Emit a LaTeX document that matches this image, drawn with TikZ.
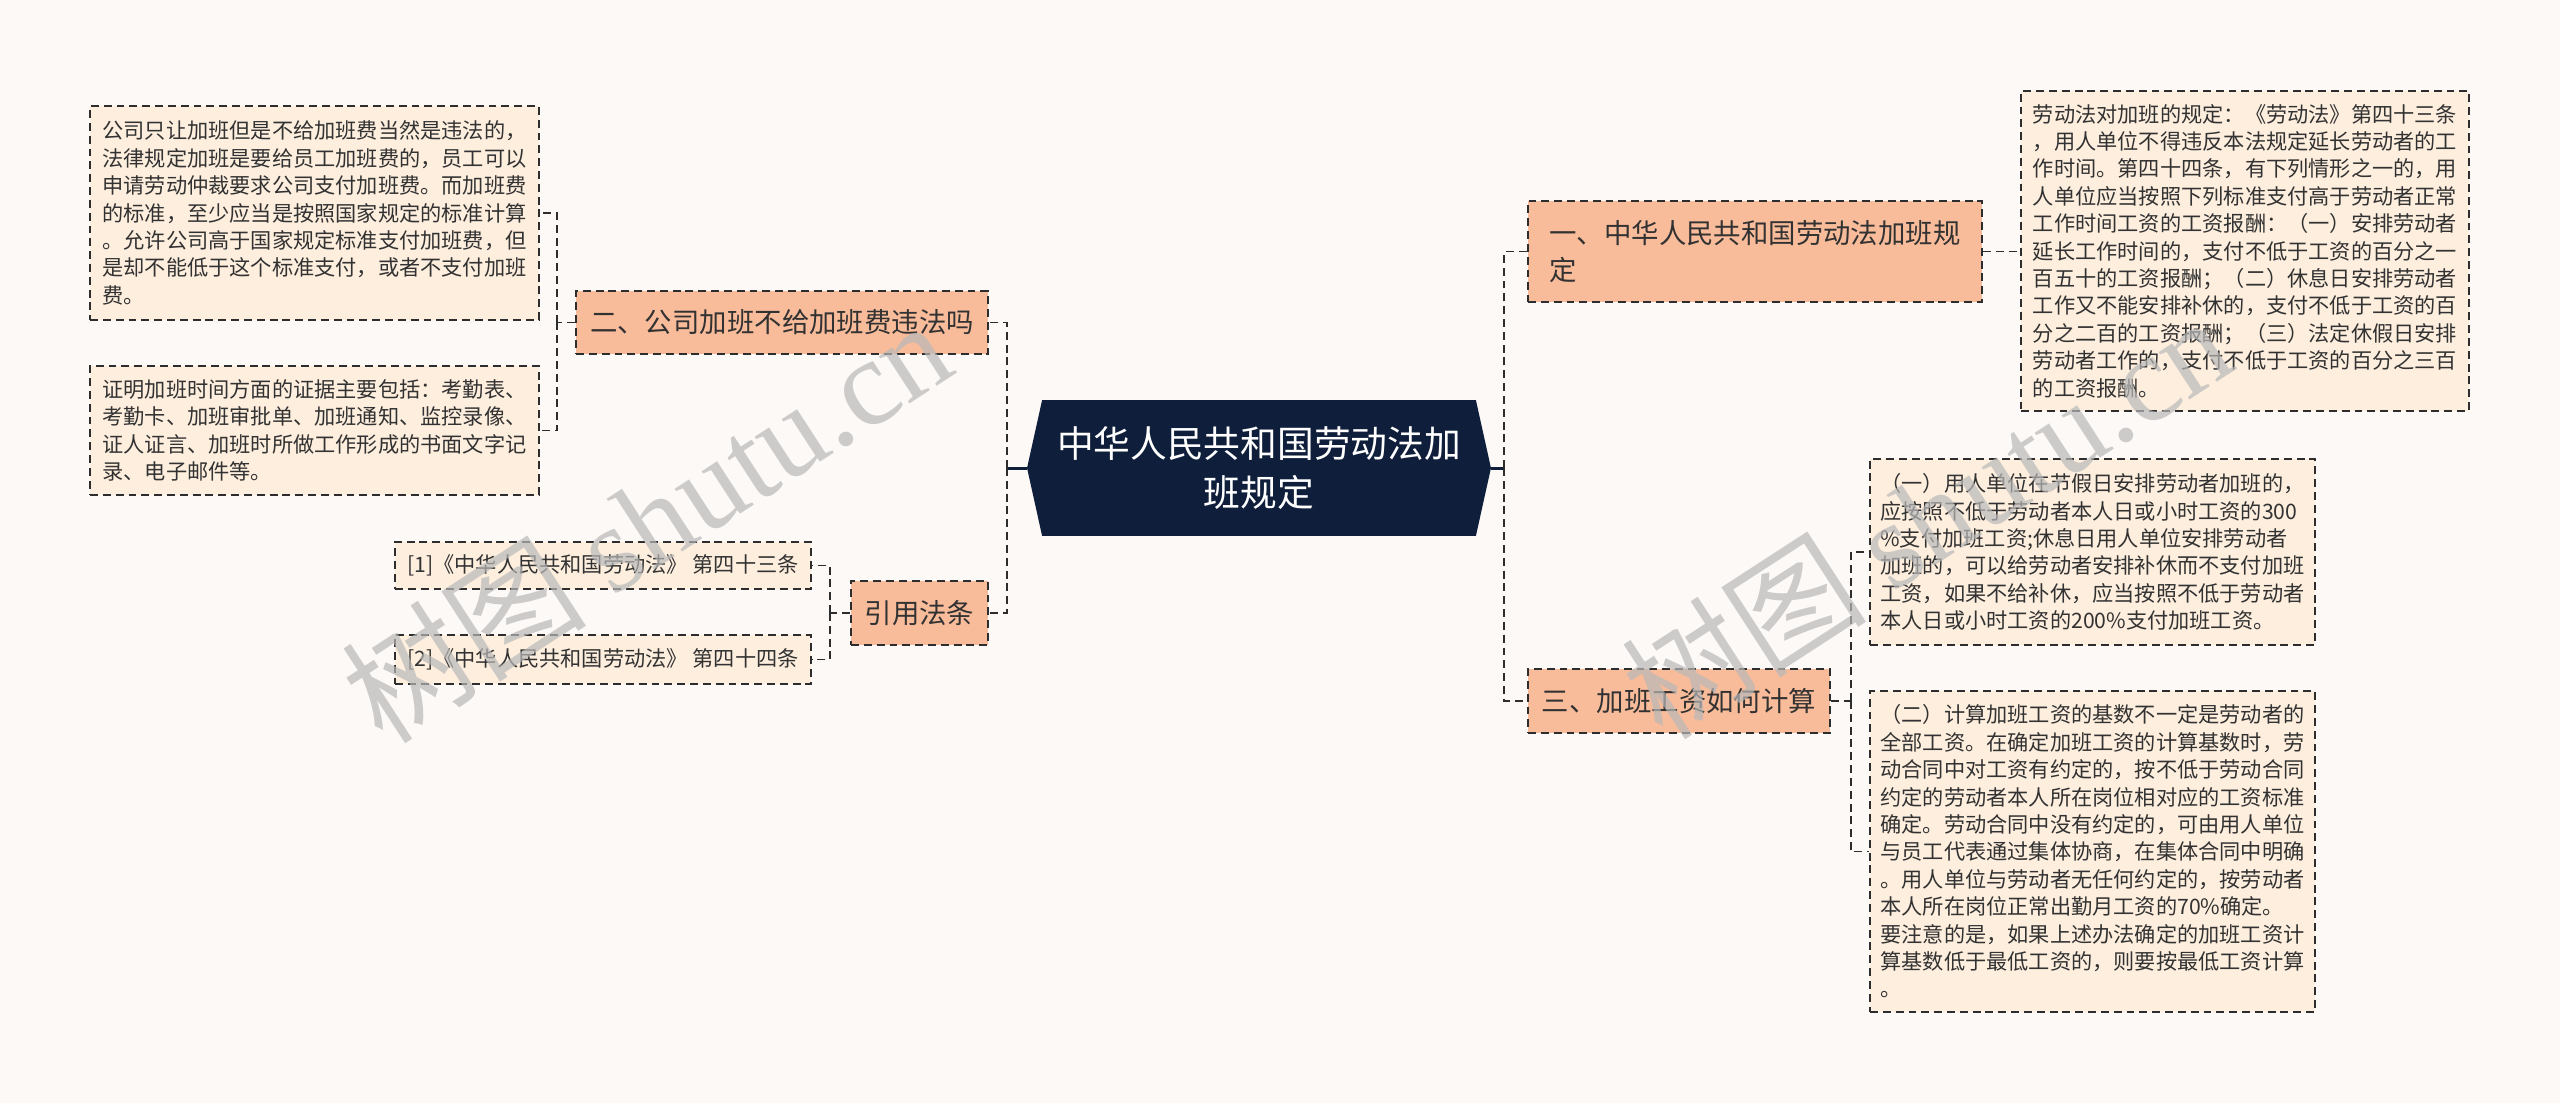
\documentclass[tikz,border=0pt]{standalone}
\usepackage{fontspec}
\setmainfont{Noto Sans CJK SC}
\newfontfamily\wmlatin{Liberation Serif}
\usetikzlibrary{shapes.symbols}

\definecolor{pagebg}{RGB}{252,249,247}
\definecolor{leaffill}{RGB}{253,238,222}
\definecolor{branchfill}{RGB}{249,188,154}
\definecolor{hubfill}{RGB}{15,31,59}
\definecolor{edge}{RGB}{45,45,45}
\definecolor{ink}{RGB}{50,50,50}

\begin{document}
\begin{tikzpicture}[x=0.02cm, y=-0.02cm,
    leaf/.style={draw=edge, fill=leaffill, dash pattern=on 4.5pt off 2.8pt,
      line width=1.1pt, text=ink, align=left, inner sep=0pt,
      font=\fontsize{12.07pt}{15.6pt}\selectfont},
    branch/.style={leaf, fill=branchfill,
      font=\fontsize{15.6pt}{21.3pt}\selectfont},
    link/.style={draw=edge, dash pattern=on 4.5pt off 2.8pt, line width=1.1pt},
    hubline/.style={draw=hubfill, line width=1.7pt},
    watermark/.style={text=black!28, text opacity=0.7, rotate=33,
      font=\fontsize{70pt}{70pt}\selectfont},
  ]
    \fill[pagebg] (0,0) rectangle (2560,1103);
    \useasboundingbox (0,0) rectangle (2560,1103);

    % centre
    \node[signal, signal to=east and west, signal pointer angle=155,
      fill=hubfill, text=white, align=center, inner sep=0pt,
      minimum width=9.28cm, minimum height=2.72cm,
      font=\fontsize{20.9pt}{27.9pt}\selectfont] (hub) at (1259,468)
      {中华人民共和国劳动法加\\班规定};

    % left: second question
    \node[branch, minimum width=8.24cm, minimum height=1.26cm] (er) at (782,322.5)
      {二、公司加班不给加班费违法吗};
    \node[leaf, minimum width=8.98cm, minimum height=4.28cm] (lone) at (314.5,213)
      {公司只让加班但是不给加班费当然是违法的，\\
       法律规定加班是要给员工加班费的，员工可以\\
       申请劳动仲裁要求公司支付加班费。而加班费\\
       的标准，至少应当是按照国家规定的标准计算\\
       。允许公司高于国家规定标准支付加班费，但\\
       是却不能低于这个标准支付，或者不支付加班\\
       费。};
    \node[leaf, minimum width=8.98cm, minimum height=2.58cm] (ltwo) at (314.5,430.5)
      {证明加班时间方面的证据主要包括：考勤表、\\
       考勤卡、加班审批单、加班通知、监控录像、\\
       证人证言、加班时所做工作形成的书面文字记\\
       录、电子邮件等。};

    % left: cited articles
    \node[branch, minimum width=2.74cm, minimum height=1.28cm] (yin) at (919.5,613)
      {引用法条};
    \node[leaf, minimum width=8.32cm, minimum height=0.94cm] (refa) at (603,565.5)
      {[1]《中华人民共和国劳动法》 第四十三条};
    \node[leaf, minimum width=8.32cm, minimum height=0.98cm] (refb) at (603,659.5)
      {[2]《中华人民共和国劳动法》 第四十四条};

    % right: first question
    \node[branch, minimum width=9.08cm, minimum height=2.02cm] (yi) at (1755,251.5)
      {一、中华人民共和国劳动法加班规\\定};
    \node[leaf, minimum width=8.96cm, minimum height=6.4cm] (rone) at (2245,251)
      {劳动法对加班的规定：《劳动法》第四十三条\\
       ，用人单位不得违反本法规定延长劳动者的工\\
       作时间。第四十四条，有下列情形之一的，用\\
       人单位应当按照下列标准支付高于劳动者正常\\
       工作时间工资的工资报酬：（一）安排劳动者\\
       延长工作时间的，支付不低于工资的百分之一\\
       百五十的工资报酬；（二）休息日安排劳动者\\
       工作又不能安排补休的，支付不低于工资的百\\
       分之二百的工资报酬；（三）法定休假日安排\\
       劳动者工作的，支付不低于工资的百分之三百\\
       的工资报酬。};

    % right: third question
    \node[branch, minimum width=6.04cm, minimum height=1.28cm] (san) at (1679,701)
      {三、加班工资如何计算};
    \node[leaf, minimum width=8.9cm, minimum height=3.72cm] (rtwo) at (2092.5,552)
      {（一）用人单位在节假日安排劳动者加班的，\\
       应按照不低于劳动者本人日或小时工资的300\\
       \%支付加班工资;休息日用人单位安排劳动者\\
       加班的，可以给劳动者安排补休而不支付加班\\
       工资，如果不给补休，应当按照不低于劳动者\\
       本人日或小时工资的200\%支付加班工资。};
    \node[leaf, minimum width=8.9cm, minimum height=6.42cm] (rthree) at (2092.5,851.5)
      {（二）计算加班工资的基数不一定是劳动者的\\
       全部工资。在确定加班工资的计算基数时，劳\\
       动合同中对工资有约定的，按不低于劳动合同\\
       约定的劳动者本人所在岗位相对应的工资标准\\
       确定。劳动合同中没有约定的，可由用人单位\\
       与员工代表通过集体协商，在集体合同中明确\\
       。用人单位与劳动者无任何约定的，按劳动者\\
       本人所在岗位正常出勤月工资的70\%确定。\\
       要注意的是，如果上述办法确定的加班工资计\\
       算基数低于最低工资的，则要按最低工资计算\\
       。};

    % connectors
    \draw[hubline] (hub.west) -- ++(-20,0) coordinate (hubl);
    \draw[hubline] (hub.east) -- ++(13,0) coordinate (hubr);
    \draw[link] (hubl) |- (er.east);
    \draw[link] (hubl) |- (yin.east);
    \draw[link] (hubr) |- (yi.west);
    \draw[link] (hubr) |- (san.west);

    \draw[link] (er.west) -- ++(-18,0) coordinate (erl);
    \draw[link] (erl) |- (lone.east);
    \draw[link] (erl) |- (ltwo.east);

    \draw[link] (yin.west) -- ++(-20,0) coordinate (yinl);
    \draw[link] (yinl) |- (refa.east);
    \draw[link] (yinl) |- (refb.east);

    \draw[link] (yi.east) -- (yi.east -| rone.west);

    \draw[link] (san.east) -- ++(20,0) coordinate (sanr);
    \draw[link] (sanr) |- (rtwo.west);
    \draw[link] (sanr) |- (rthree.west);

    % watermarks
    \node[watermark] (wma) at (646,520) {树图 {\wmlatin shutu.cn}};
    \node[watermark] (wmb) at (1926,516) {树图 {\wmlatin shutu.cn}};
\end{tikzpicture}
\end{document}
